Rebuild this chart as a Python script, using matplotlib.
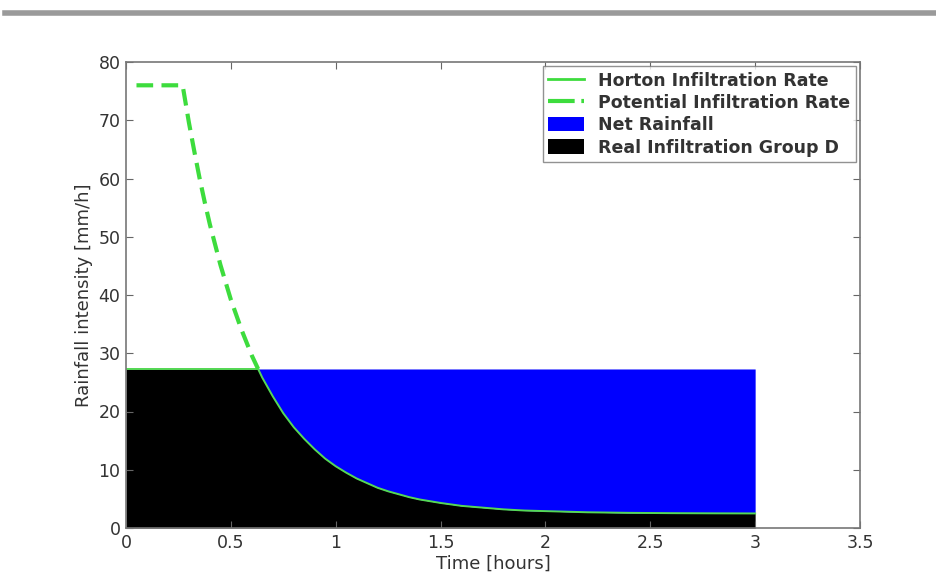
import numpy as np
import matplotlib.pyplot as plt
from matplotlib.lines import Line2D

# time axis [hours] and the values [mm/h]
time_h = [0.0, 0.05, 0.27, 0.30, 0.325, 0.35, 0.375, 0.40, 0.45, 0.50, 0.55,
          0.60, 0.63, 0.65, 0.70, 0.75, 0.80, 0.85, 0.90, 0.95, 1.00, 1.05,
          1.10, 1.15, 1.20, 1.25, 1.30, 1.35, 1.40, 1.45, 1.50, 1.60, 1.70,
          1.80, 1.90, 2.00, 2.20, 2.40, 2.60, 2.80, 3.00]
potential = [76.0, 76.0, 76.0, 69.6, 64.8, 60.2, 56.0, 52.1, 45.2, 39.2, 34.1,
             29.6, 27.3, 25.8, 22.6, 19.7, 17.3, 15.3, 13.5, 11.9, 10.6, 9.5,
             8.5, 7.7, 6.9, 6.3, 5.8, 5.3, 4.9, 4.6, 4.3, 3.8, 3.5,
             3.2, 3.0, 2.9, 2.7, 2.6, 2.55, 2.52, 2.5]
rainfall = [27.3] * len(time_h)

t = np.array(time_h)
pot = np.array(potential)
rain = np.array(rainfall)
infil = np.minimum(rain, pot)

plt.rcParams['font.family'] = ['DejaVu Sans']

fig = plt.figure(figsize=(9.36, 5.84), dpi=100)
# grey rule across the top of the page
fig.add_artist(Line2D([5 / 936, 1.0], [1 - 13 / 584, 1 - 13 / 584],
                      color='#9a9a9a', lw=4, transform=fig.transFigure))

ax = fig.add_axes([126 / 936, 1 - 528 / 584, 734 / 936, 466 / 584])

green = '#3ddc3d'
ax.fill_between(t, 0, infil, color='black', lw=0, label='Real Infiltration Group D')
ax.fill_between(t, infil, rain, color='#0000ff', lw=0, label='Net Rainfall')
ax.plot(t, infil, color='#55d855', lw=1.4, solid_joinstyle='round',
        label='Horton Infiltration Rate')
above = (pot >= rain) & (t > 0)
ax.plot(t[above], pot[above], color=green, lw=3, ls=(0, (4, 2)),
        label='Potential Infiltration Rate')

ax.set_xlim(0, 3.5)
ax.set_ylim(0, 80)
ax.set_xticks(np.arange(0, 3.51, 0.5))
ax.set_xticklabels(['0', '0.5', '1', '1.5', '2', '2.5', '3', '3.5'])
ax.set_yticks(range(0, 81, 10))
ax.tick_params(direction='in', length=5, top=True, right=True,
               labelsize=12.5, colors='#666666', labelcolor='#333333', pad=4)
for s in ax.spines.values():
    s.set_color('#777777')
    s.set_linewidth(1.2)

ax.set_xlabel('Time [hours]', fontsize=13, color='#333333', labelpad=2)
ax.set_ylabel('Rainfall intensity [mm/h]', fontsize=13, color='#333333', labelpad=4)

handles, labels = ax.get_legend_handles_labels()
order = [2, 3, 1, 0]
leg_handles = [handles[i] for i in order]
leg_handles[0] = Line2D([], [], color=green, lw=2)
leg_handles[1] = Line2D([], [], color=green, lw=3, ls='-.')
leg = ax.legend(leg_handles, [labels[i] for i in order], loc='upper right',
                prop={'size': 12.5, 'weight': 'bold'}, frameon=True,
                fancybox=False, edgecolor='#777777',
                handlelength=2.1, handleheight=0.9, handletextpad=0.8,
                labelspacing=0.25, borderpad=0.3, borderaxespad=0.25)
leg.get_frame().set_linewidth(1.0)
for txt in leg.get_texts():
    txt.set_color('#333333')

fig.savefig('out.png', dpi=100)
